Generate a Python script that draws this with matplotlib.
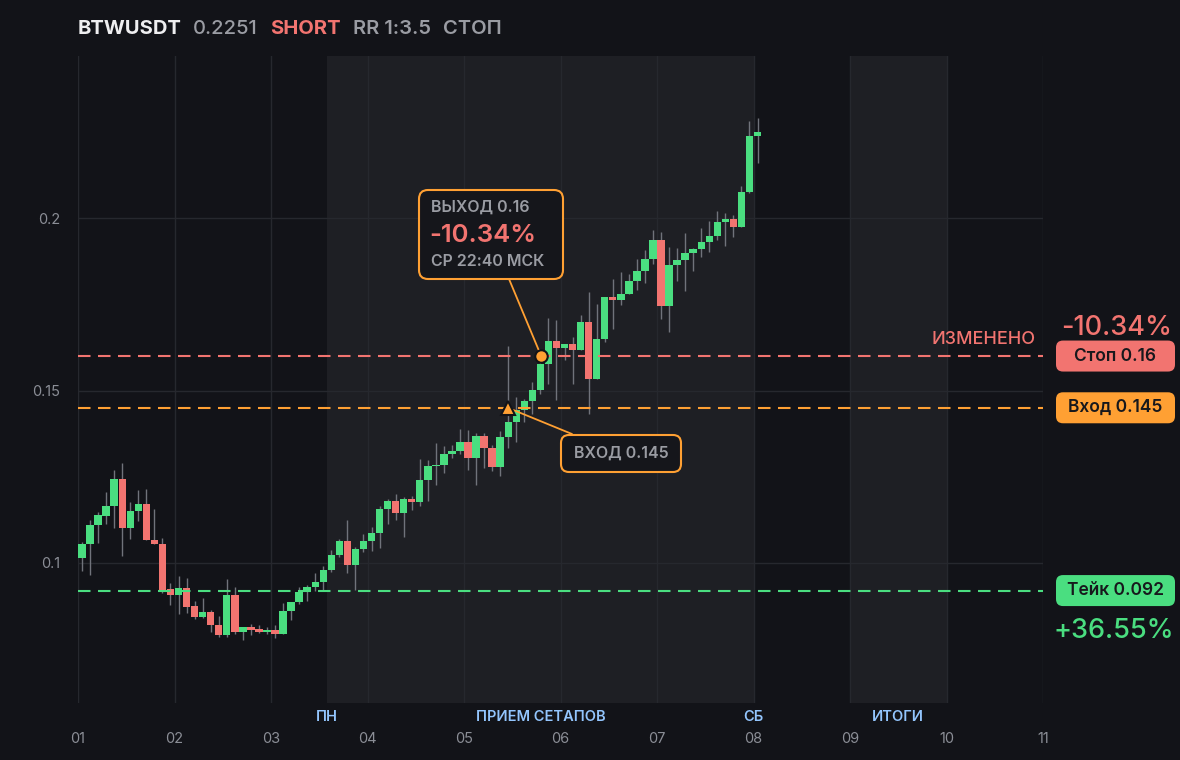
import os
import numpy as np
import matplotlib
matplotlib.use("Agg")
import matplotlib.pyplot as plt
import matplotlib.font_manager as fm
from matplotlib.patches import FancyBboxPatch
from matplotlib.transforms import IdentityTransform, blended_transform_factory

plt.rcParams['font.family'] = ['Inter', 'DejaVu Sans']

# --- data (2h candles, 12 per day) ---
opens = [0.1015, 0.1055, 0.1110, 0.1136, 0.1165, 0.1243, 0.1102, 0.1151, 0.1171, 0.1068,
         0.1056, 0.0925, 0.0908, 0.0927, 0.0875, 0.0844, 0.0858, 0.0821, 0.0792, 0.0907,
         0.0801, 0.0814, 0.0808, 0.0801, 0.0806, 0.0795, 0.0861, 0.0887, 0.0916, 0.0930,
         0.0945, 0.0980, 0.1023, 0.1064, 0.0995, 0.1041, 0.1064, 0.1087, 0.1157, 0.1180,
         0.1146, 0.1185, 0.1178, 0.1241, 0.1281, 0.1284, 0.1316, 0.1325, 0.1351, 0.1305,
         0.1368, 0.1334, 0.1279, 0.1365, 0.1409, 0.1443, 0.1470, 0.1501, 0.1577, 0.1643,
         0.1624, 0.1635, 0.1617, 0.1699, 0.1533, 0.1649, 0.1771, 0.1762, 0.1780, 0.1817,
         0.1846, 0.1881, 0.1936, 0.1745, 0.1864, 0.1878, 0.1899, 0.1910, 0.1930, 0.1948,
         0.1988, 0.1997, 0.1974, 0.2075, 0.2238]
highs = [0.1061, 0.1125, 0.1148, 0.1206, 0.1270, 0.1290, 0.1177, 0.1212, 0.1214, 0.1157,
         0.1072, 0.0942, 0.0962, 0.0957, 0.0890, 0.0899, 0.0864, 0.0846, 0.0954, 0.0930,
         0.0814, 0.0824, 0.0820, 0.0814, 0.0820, 0.0884, 0.0887, 0.0930, 0.0936, 0.0971,
         0.0991, 0.1038, 0.1070, 0.1125, 0.1046, 0.1084, 0.1104, 0.1165, 0.1185, 0.1200,
         0.1191, 0.1194, 0.1301, 0.1299, 0.1348, 0.1339, 0.1342, 0.1388, 0.1386, 0.1377,
         0.1377, 0.1342, 0.1383, 0.1629, 0.1481, 0.1475, 0.1525, 0.1588, 0.1709, 0.1704,
         0.1635, 0.1655, 0.1719, 0.1786, 0.1751, 0.1771, 0.1823, 0.1843, 0.1838, 0.1881,
         0.1907, 0.1965, 0.1959, 0.1917, 0.1913, 0.1957, 0.1913, 0.1971, 0.1991, 0.2020,
         0.2014, 0.2009, 0.2093, 0.2281, 0.2290]
lows = [0.0978, 0.0966, 0.1059, 0.1113, 0.1101, 0.1021, 0.1070, 0.1123, 0.1066, 0.1054,
        0.0914, 0.0879, 0.0853, 0.0856, 0.0839, 0.0841, 0.0801, 0.0786, 0.0786, 0.0795,
        0.0778, 0.0792, 0.0798, 0.0795, 0.0783, 0.0795, 0.0836, 0.0882, 0.0891, 0.0920,
        0.0920, 0.0975, 0.1018, 0.0972, 0.0922, 0.1033, 0.1036, 0.1044, 0.1114, 0.1125,
        0.1076, 0.1154, 0.1166, 0.1181, 0.1227, 0.1262, 0.1305, 0.1317, 0.1270, 0.1227,
        0.1276, 0.1268, 0.1253, 0.1334, 0.1352, 0.1410, 0.1433, 0.1490, 0.1519, 0.1472,
        0.1588, 0.1519, 0.1617, 0.1432, 0.1533, 0.1640, 0.1678, 0.1748, 0.1780, 0.1791,
        0.1812, 0.1867, 0.1707, 0.1670, 0.1817, 0.1788, 0.1846, 0.1887, 0.1901, 0.1936,
        0.1919, 0.1945, 0.1974, 0.2072, 0.2159]
closes = [0.1055, 0.1110, 0.1139, 0.1165, 0.1243, 0.1102, 0.1151, 0.1171, 0.1068, 0.1056,
          0.0922, 0.0908, 0.0927, 0.0873, 0.0844, 0.0858, 0.0821, 0.0792, 0.0907, 0.0801,
          0.0814, 0.0807, 0.0801, 0.0806, 0.0795, 0.0861, 0.0887, 0.0916, 0.0930, 0.0945,
          0.0980, 0.1023, 0.1064, 0.0995, 0.1041, 0.1064, 0.1087, 0.1157, 0.1180, 0.1146,
          0.1185, 0.1178, 0.1241, 0.1281, 0.1284, 0.1316, 0.1325, 0.1351, 0.1305, 0.1368,
          0.1334, 0.1279, 0.1365, 0.1409, 0.1443, 0.1470, 0.1501, 0.1577, 0.1643, 0.1624,
          0.1635, 0.1617, 0.1699, 0.1533, 0.1649, 0.1771, 0.1762, 0.1780, 0.1817, 0.1846,
          0.1881, 0.1936, 0.1745, 0.1864, 0.1878, 0.1899, 0.1910, 0.1930, 0.1948, 0.1988,
          0.1997, 0.1974, 0.2075, 0.2238, 0.2251]

day_labels = ['01', '02', '03', '04', '05', '06', '07', '08', '09', '10', '11']
y_ticks = [0.1, 0.15, 0.2]
y_labels = ['0.1', '0.15', '0.2']

stop_price = 0.16
entry_price = 0.145
take_price = 0.092
entry_x = 5.455
exit_x = 5.80
week_start, week_end = 3.583, 8.0
summary_start, summary_end = 9.0, 10.0

# --- colours ---
bg = '#121318'
shade = '#1e1f24'
grid_c = '#26282e'
green = '#4ade80'
red = '#f27470'
orange = '#ffa033'
gray = '#9a9ca3'
blue = '#93c5fd'
wick_c = '#70737b'

# static Inter weights (the variable font only gives regular)
_files = {os.path.basename(f): f for f in fm.findSystemFonts()}

def inter(weight, size):
    f = _files.get('Inter-%s.otf' % weight)
    if f:
        return fm.FontProperties(fname=f, size=size)
    return fm.FontProperties(family=['Inter', 'DejaVu Sans'],
                             weight={'Medium': 500, 'SemiBold': 600, 'Bold': 700}.get(weight, 400),
                             size=size)

fig = plt.figure(figsize=(11.8, 7.6), dpi=100, facecolor=bg)
W, H = 1180, 760
ax = fig.add_axes([78 / W, 1 - 703 / H, 965 / W, 647 / H])
ax.set_facecolor(bg)
ax.set_xlim(1, 11)
ax.set_ylim(0.0594, 0.2470)

ax.axvspan(week_start, week_end, color=shade, zorder=0, lw=0)
ax.axvspan(summary_start, summary_end, color=shade, zorder=0, lw=0)

ax.set_xticks(range(1, 12))
ax.set_xticklabels(day_labels)
ax.set_yticks(y_ticks)
ax.set_yticklabels(y_labels)
ax.tick_params(length=0, colors='#8b8e96', labelsize=10.5)
ax.tick_params(axis='x', pad=21)
ax.tick_params(axis='y', pad=13)
ax.grid(color=grid_c, lw=1)
ax.set_axisbelow(True)
for s in ax.spines.values():
    s.set_visible(False)

# candles
n = len(opens)
xs = 1 + (np.arange(n) + 0.5) / 12
o = np.array(opens); c = np.array(closes)
cols = [green if cc >= oo else red for oo, cc in zip(o, c)]
ax.vlines(xs, lows, highs, color=wick_c, lw=1, zorder=2)
body_h = np.maximum(np.abs(c - o), 0.00035)
ax.bar(xs, body_h, bottom=np.minimum(o, c), width=0.92 / 12, color=cols, lw=0, zorder=3)

# level lines
for p, col in [(stop_price, red), (entry_price, orange), (take_price, green)]:
    ax.axhline(p, color=col, lw=1.5, dashes=(6, 3.6), zorder=4)

ax.annotate('ИЗМЕНЕНО', xy=(10.92, stop_price), xytext=(0, 6), textcoords='offset points',
            ha='right', va='bottom', color=red, fontproperties=inter('Medium', 13))

# markers
ax.plot([exit_x], [stop_price], 'o', ms=9, mfc=orange, mec=bg, mew=1.5, zorder=7)
ax.plot([entry_x], [entry_price], '^', ms=10, mfc=orange, mec=bg, mew=1.5, zorder=7)

ax.annotate('', xy=(exit_x, stop_price), xytext=(509 / W, 1 - 279 / H),
            textcoords='figure fraction',
            arrowprops=dict(arrowstyle='-', color=orange, lw=1.3, shrinkA=0, shrinkB=0),
            zorder=6)
ax.annotate('', xy=(entry_x, entry_price), xytext=(572 / W, 1 - 434 / H),
            textcoords='figure fraction',
            arrowprops=dict(arrowstyle='-', color=orange, lw=1.3, shrinkA=0, shrinkB=4),
            zorder=6)

def px_box(x0, y0, w, h, fc, ec='none', lw=0, r=7):
    # pixel box, y0 measured from top of image
    p = FancyBboxPatch((x0, H - y0 - h), w, h, boxstyle='round,pad=0,rounding_size=%d' % r,
                       transform=IdentityTransform(), fc=fc, ec=ec, lw=lw, zorder=10)
    fig.add_artist(p)

# exit callout
px_box(419, 190, 144, 89, '#15161b', orange, 1.5, 9)
fig.text(431 / W, 1 - 207 / H, 'ВЫХОД 0.16', color=gray, fontproperties=inter('SemiBold', 11.5),
         va='center', zorder=11)
fig.text(429 / W, 1 - 235 / H, '-10.34%', color=red, fontproperties=inter('SemiBold', 18.5),
         va='center', zorder=11)
fig.text(431 / W, 1 - 261 / H, 'СР 22:40 МСК', color=gray, fontproperties=inter('SemiBold', 11.5),
         va='center', zorder=11)

# entry callout
px_box(561, 435, 120, 37, '#15161b', orange, 1.5, 8)
fig.text(621 / W, 1 - 453 / H, 'ВХОД 0.145', color=gray, fontproperties=inter('SemiBold', 11.5),
         ha='center', va='center', zorder=11)

# right price tags
def price_y(p):
    return ax.transData.transform((1, p))[1]

for p, col, label in [(stop_price, red, 'Стоп 0.16'), (entry_price, orange, 'Вход 0.145'),
                      (take_price, green, 'Тейк 0.092')]:
    yc = price_y(p)
    px_box(1056, H - yc - 15.5, 119, 31, col, r=7)
    fig.text(1115.5 / W, yc / H, label, color='#17181c', fontproperties=inter('SemiBold', 12.5),
             ha='center', va='center', zorder=11)

fig.text(1172 / W, (price_y(stop_price) + 28.5) / H, '-10.34%', color=red,
         fontproperties=inter('Medium', 19.5), ha='right', va='center')
fig.text(1174 / W, (price_y(take_price) - 40) / H, '+36.55%', color=green,
         fontproperties=inter('Medium', 19.5), ha='right', va='center')

# session labels under the plot
tb = blended_transform_factory(ax.transData, ax.transAxes)
for xpos, lab in [(week_start, 'ПН'), ((week_start + week_end) / 2, 'ПРИЕМ СЕТАПОВ'),
                  (week_end, 'СБ'), ((summary_start + summary_end) / 2, 'ИТОГИ')]:
    ax.text(xpos, -0.022, lab, transform=tb, color=blue, fontproperties=inter('SemiBold', 10.5),
            ha='center', va='center')

# header
hy = 1 - 29.5 / H
fig.text(78 / W, hy, 'BTWUSDT', color='#eeeef0', fontproperties=inter('Bold', 14.5), va='center')
fig.text(193 / W, hy, '0.2251', color=gray, fontproperties=inter('Medium', 14.5), va='center')
fig.text(270 / W, hy, 'SHORT', color=red, fontproperties=inter('Bold', 14.5), va='center')
fig.text(353 / W, hy, 'RR 1:3.5', color=gray, fontproperties=inter('SemiBold', 14.5), va='center')
fig.text(443 / W, hy, 'СТОП', color=gray, fontproperties=inter('SemiBold', 14.5), va='center')

fig.savefig('out.png', dpi=100, facecolor=bg)
